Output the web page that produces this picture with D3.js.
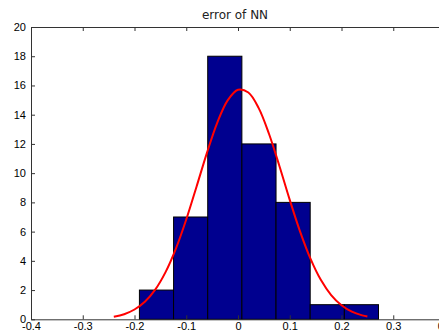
<!DOCTYPE html>
<html>
<head>
<meta charset="utf-8">
<script src="https://cdn.jsdelivr.net/npm/d3@7"></script>
<style>
  html, body { margin: 0; padding: 0; background: #fff; }
  svg { display: block; }
  text { font-family: "Liberation Sans", "DejaVu Sans", sans-serif; fill: #000; }
</style>
</head>
<body>
<svg id="chart" width="439" height="332"></svg>
<script>
// Histogram of the errors: bin edges and counts
const binEdges = [-0.1905, -0.1245, -0.0585, 0.0075, 0.0735, 0.1395, 0.2055, 0.2715];
const binCounts = [2, 7, 18, 12, 8, 1, 1];

// Fitted normal curve sampled along x
const fitX = [-0.24, -0.22, -0.20, -0.18, -0.16, -0.14, -0.12, -0.10, -0.08, -0.06, -0.04, -0.02,
              0.00, 0.02, 0.04, 0.06, 0.08, 0.10, 0.12, 0.14, 0.16, 0.18, 0.20, 0.22, 0.24, 0.25];
const fitY = [0.18, 0.35, 0.67, 1.20, 2.03, 3.23, 4.84, 6.83, 9.09, 11.39, 13.46, 14.98,
              15.71, 15.52, 14.45, 12.68, 10.49, 8.17, 6.00, 4.15, 2.70, 1.66, 0.96, 0.52, 0.27, 0.19];

// Axis ticks
const xTicks = [-0.4, -0.3, -0.2, -0.1, 0, 0.1, 0.2, 0.3, 0.4];
const xTickLabels = ["-0.4", "-0.3", "-0.2", "-0.1", "0", "0.1", "0.2", "0.3", "0.4"];
const yTicks = [0, 2, 4, 6, 8, 10, 12, 14, 16, 18, 20];
const yTickLabels = ["0", "2", "4", "6", "8", "10", "12", "14", "16", "18", "20"];

const title = "error of NN";

const svg = d3.select("#chart");
const plot = { left: 31, top: 27, right: 445, bottom: 319.3 };

const x = d3.scaleLinear().domain([-0.4, 0.4]).range([plot.left, plot.right]);
const y = d3.scaleLinear().domain([0, 20]).range([plot.bottom, plot.top]);

// Bars
const bins = binCounts.map((c, i) => ({ x0: binEdges[i], x1: binEdges[i + 1], count: c }));
svg.append("g")
  .selectAll("rect")
  .data(bins)
  .join("rect")
  .attr("x", d => x(d.x0))
  .attr("y", d => y(d.count))
  .attr("width", d => x(d.x1) - x(d.x0))
  .attr("height", d => y(0) - y(d.count))
  .attr("fill", "#00008f")
  .attr("stroke", "#000")
  .attr("stroke-width", 1);

// Fit curve
const line = d3.line()
  .x((d, i) => x(fitX[i]))
  .y(d => y(d))
  .curve(d3.curveCatmullRom);
svg.append("path")
  .attr("d", line(fitY))
  .attr("fill", "none")
  .attr("stroke", "#ff0000")
  .attr("stroke-width", 2);

// Frame and ticks
const axisColor = "#333";
const bottomAxis = d3.axisBottom(x).tickValues(xTicks).tickSizeInner(-4).tickSizeOuter(0)
  .tickPadding(3).tickFormat((d, i) => xTickLabels[i]);
const topAxis = d3.axisTop(x).tickValues(xTicks).tickSizeInner(-4).tickSizeOuter(0)
  .tickFormat("");
const leftAxis = d3.axisLeft(y).tickValues(yTicks).tickSizeInner(-4).tickSizeOuter(0)
  .tickPadding(5).tickFormat((d, i) => yTickLabels[i]);
const rightAxis = d3.axisRight(y).tickValues(yTicks).tickSizeInner(-4).tickSizeOuter(0)
  .tickFormat("");

function styleAxis(g) {
  g.selectAll("path").attr("stroke", axisColor);
  g.selectAll("line").attr("stroke", axisColor);
  g.selectAll("text").attr("fill", "#000").style("font-size", "11px")
    .style("font-family", "'Liberation Sans', 'DejaVu Sans', sans-serif");
}

svg.append("g").attr("transform", `translate(0,${plot.bottom})`).call(bottomAxis).call(styleAxis);
svg.append("g").attr("transform", `translate(0,${plot.top})`).call(topAxis).call(styleAxis);
svg.append("g").attr("transform", `translate(${plot.left},0)`).call(leftAxis).call(styleAxis);
svg.append("g").attr("transform", `translate(${plot.right},0)`).call(rightAxis).call(styleAxis);

// Title
svg.append("text")
  .attr("x", 235)
  .attr("y", 19)
  .attr("text-anchor", "middle")
  .style("font-family", "'DejaVu Sans', sans-serif")
  .style("font-size", "12px")
  .style("fill", "#222")
  .text(title);
</script>
</body>
</html>
